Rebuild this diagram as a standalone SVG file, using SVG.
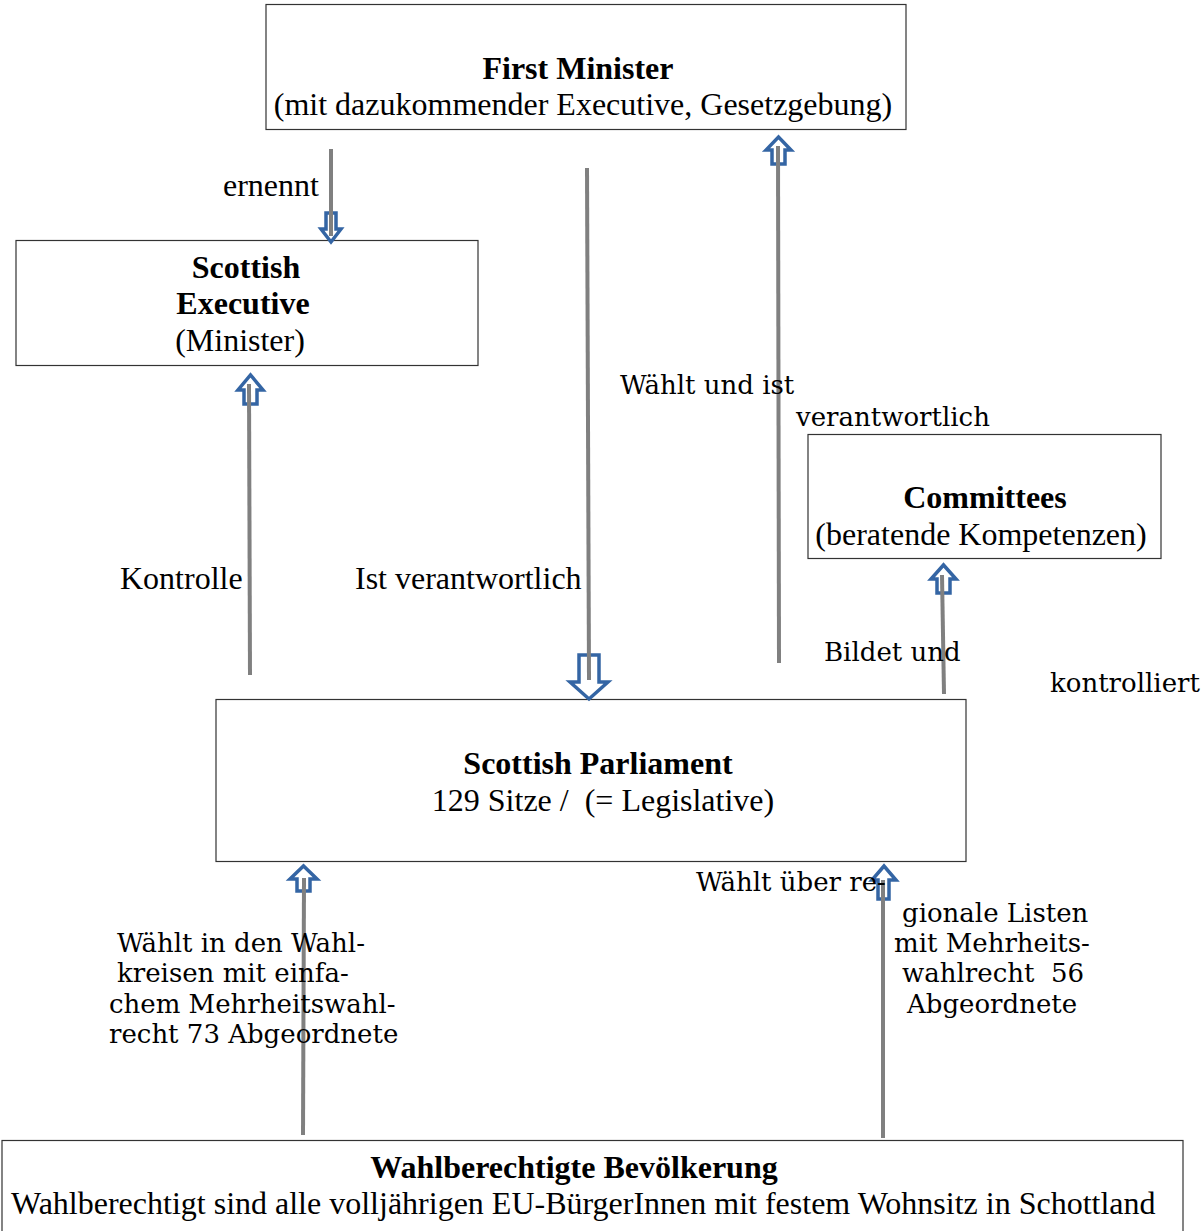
<svg xmlns="http://www.w3.org/2000/svg" width="1202" height="1231" viewBox="0 0 1202 1231">
<style>
.box{fill:#fff;stroke:#333;stroke-width:1.2}
.t{font-family:"Liberation Serif","Times New Roman",serif;font-size:32px;fill:#000;white-space:pre}
.b{font-weight:bold}
.m{text-anchor:middle}
.d{font-family:"DejaVu Serif",serif;font-size:26px;fill:#000;white-space:pre}
.ln{stroke:#808080;stroke-width:4;fill:none}
.ar{fill:#fff;stroke:#3465a4;stroke-width:3.5;stroke-linejoin:miter}
</style>
<rect width="1202" height="1231" fill="#fff"/>
<g id="first-minister">
<rect class="box" x="266" y="4.5" width="640" height="125"/>
<text class="t b m" x="578" y="79">First Minister</text>
<text class="t m" x="583" y="115">(mit dazukommender Executive, Gesetzgebung)</text>
</g>
<g id="scottish-executive">
<rect class="box" x="16" y="240.5" width="462" height="125"/>
<text class="t b m" x="246" y="278">Scottish</text>
<text class="t b m" x="243" y="314">Executive</text>
<text class="t m" x="240" y="351">(Minister)</text>
</g>
<g id="committees">
<rect class="box" x="808" y="434.5" width="353" height="124"/>
<text class="t b m" x="985" y="508">Committees</text>
<text class="t m" x="981" y="545">(beratende Kompetenzen)</text>
</g>
<g id="scottish-parliament">
<rect class="box" x="216" y="699.5" width="750" height="162"/>
<text class="t b m" x="598" y="774">Scottish Parliament</text>
<text class="t m" x="603" y="811" xml:space="preserve">129 Sitze /  (= Legislative)</text>
</g>
<g id="bevoelkerung">
<rect class="box" x="2" y="1140.5" width="1181" height="100"/>
<text class="t b m" x="574" y="1178">Wahlberechtigte Bevölkerung</text>
<text class="t" x="11" y="1214">Wahlberechtigt sind alle volljährigen EU-BürgerInnen mit festem Wohnsitz in Schottland</text>
</g>
<g id="connectors">
<path class="ar" d="M326,213 H336 V229 H341 L331,242 L321,229 H326 Z"/>
<line class="ln" x1="331" y1="149" x2="331" y2="236"/>
<path class="ar" d="M579,655 H599 V682 H608 L589,699 L570,682 H579 Z"/>
<line class="ln" x1="587" y1="168" x2="589" y2="680"/>
<path class="ar" d="M772,164 H785 V150 H791 L778.5,137 L766,150 H772 Z"/>
<line class="ln" x1="779" y1="663" x2="778" y2="146"/>
<path class="ar" d="M244,404 H257 V390 H263 L250.5,375 L238,390 H244 Z"/>
<line class="ln" x1="250" y1="675" x2="249" y2="384"/>
<path class="ar" d="M937,593 H950 V579 H956 L943.5,565 L931,579 H937 Z"/>
<line class="ln" x1="944" y1="694" x2="942" y2="575"/>
<path class="ar" d="M297,891 H310 V879 H317 L303.5,866 L290,879 H297 Z"/>
<line class="ln" x1="303" y1="1135" x2="304" y2="878"/>
<path class="ar" d="M878,899 H889 V880 H896 L884,866 L872,880 H878 Z"/>
<line class="ln" x1="883" y1="1138" x2="883" y2="880"/>
</g>
<g id="labels">
<text class="t" x="223" y="196">ernennt</text>
<text class="t" x="120" y="589">Kontrolle</text>
<text class="t" x="355" y="589">Ist verantwortlich</text>
<text class="d" x="620" y="394">Wählt und ist</text>
<text class="d" x="796" y="426">verantwortlich</text>
<text class="d" x="824" y="661">Bildet und</text>
<text class="d" x="1050" y="692">kontrolliert</text>
<text class="d" x="117" y="952">Wählt in den Wahl-</text>
<text class="d" x="117" y="982">kreisen mit einfa-</text>
<text class="d" x="109" y="1013">chem Mehrheitswahl-</text>
<text class="d" x="109" y="1043">recht 73 Abgeordnete</text>
<text class="d" x="696" y="891">Wählt über re-</text>
<text class="d" x="902" y="922">gionale Listen</text>
<text class="d" x="894" y="952">mit Mehrheits-</text>
<text class="d" x="902" y="982" xml:space="preserve">wahlrecht  56</text>
<text class="d" x="907" y="1013">Abgeordnete</text>
</g>
</svg>
